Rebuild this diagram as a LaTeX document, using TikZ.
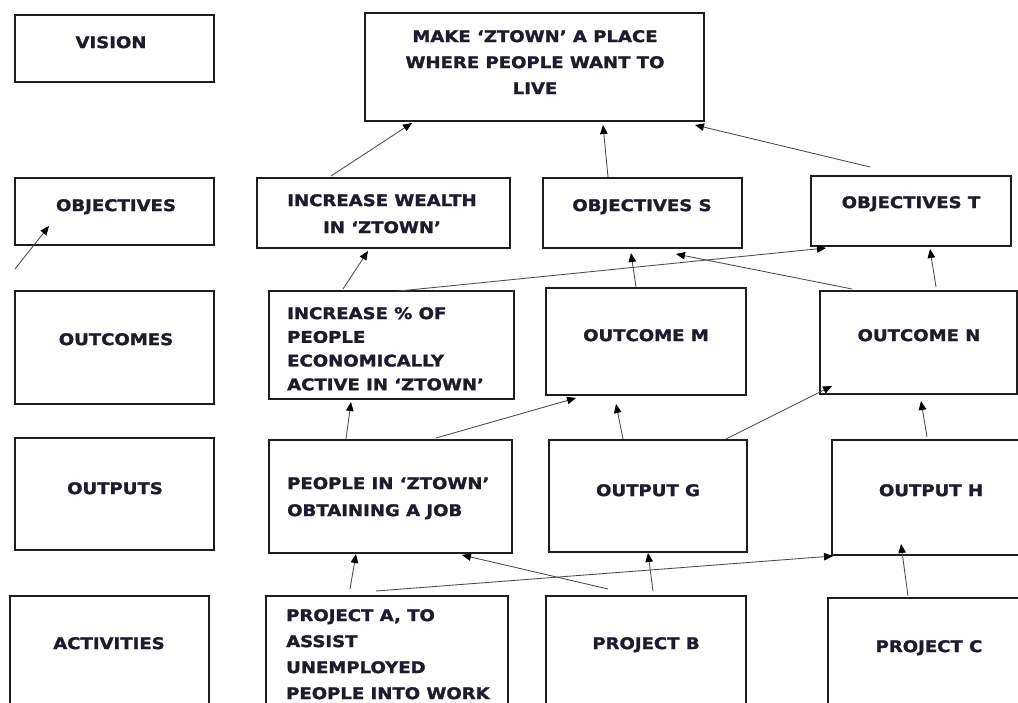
\documentclass[tikz,border=0pt]{standalone}
\usepackage{fontspec}
\usetikzlibrary{arrows.meta,calc}
\newfontfamily\lblfont[FakeStretch=1.13,FakeBold=1.6]{DejaVu Sans}
\definecolor{ink}{HTML}{1C1C2E}
\definecolor{frame}{HTML}{1E1E1E}
\definecolor{wire}{HTML}{4A4A4A}
\begin{document}
\begin{tikzpicture}[x=1pt,y=-1pt,
  box/.style={draw=frame,line width=2pt,rectangle,inner sep=0pt},
  lbl/.style={inner sep=0pt,anchor=north,text=ink,
    font=\lblfont\bfseries\fontsize{16}{26}\selectfont},
  link/.style={draw=wire,line width=0.85pt,
    -{Triangle[length=9pt,width=7.5pt,fill=black,color=black]}}]
\clip (0,0) rectangle (1018,703);
\fill[white] (0,0) rectangle (1018,703);

% ---- boxes, one row per level ----
\node[box,minimum width=199pt,minimum height=67pt]  (vis)    at (114.5,48.5) {};
\node[box,minimum width=339pt,minimum height=108pt] (make)   at (534.5,67)   {};

\node[box,minimum width=199pt,minimum height=67pt]  (obj)    at (114.5,211.5) {};
\node[box,minimum width=253pt,minimum height=70pt]  (wealth) at (383.5,213)   {};
\node[box,minimum width=199pt,minimum height=70pt]  (objs)   at (642.5,213)   {};
\node[box,minimum width=200pt,minimum height=70pt]  (objt)   at (911,211)     {};

\node[box,minimum width=199pt,minimum height=113pt] (outc)   at (114.5,347.5) {};
\node[box,minimum width=245pt,minimum height=108pt] (incp)   at (391.5,345)   {};
\node[box,minimum width=200pt,minimum height=107pt] (outm)   at (646,341.5)   {};
\node[box,minimum width=197pt,minimum height=103pt] (outn)   at (918.5,342.5) {};

\node[box,minimum width=199pt,minimum height=112pt] (outp)   at (114.5,494)   {};
\node[box,minimum width=243pt,minimum height=113pt] (people) at (390.5,496.5) {};
\node[box,minimum width=198pt,minimum height=112pt] (outg)   at (648,496)     {};
\node[box,minimum width=198pt,minimum height=115pt] (outh)   at (931,497.5)   {};

\node[box,minimum width=199pt,minimum height=164pt] (act)    at (109.5,678)   {};
\node[box,minimum width=242pt,minimum height=164pt] (proja)  at (387,678)     {};
\node[box,minimum width=200pt,minimum height=164pt] (projb)  at (646,678)     {};
\node[box,minimum width=202pt,minimum height=162pt] (projc)  at (929,679)     {};

% ---- labels ----
\node[lbl] (vis-t)    at (111,36)  {VISION};
\node[lbl,align=center] (make-t) at (535,30)
  {MAKE ‘ZTOWN’ A PLACE\\WHERE PEOPLE WANT TO\\LIVE};
\node[lbl] (obj-t)    at (116,199) {OBJECTIVES};
\node[lbl,align=center,font=\lblfont\bfseries\fontsize{16}{27}\selectfont]
  (wealth-t) at (382,194) {INCREASE WEALTH\\IN ‘ZTOWN’};
\node[lbl] (objs-t)   at (642,199) {OBJECTIVES S};
\node[lbl] (objt-t)   at (911,196) {OBJECTIVES T};

\node[lbl] (outc-t)   at (116,333) {OUTCOMES};
\node[lbl,anchor=north west,align=left,font=\lblfont\bfseries\fontsize{16}{23.7}\selectfont]
  (incp-t) at (287,307) {INCREASE \% OF\\PEOPLE\\ECONOMICALLY\\ACTIVE IN ‘ZTOWN’};
\node[lbl] (outm-t)   at (646,329) {OUTCOME M};
\node[lbl] (outn-t)   at (919,329) {OUTCOME N};

\node[lbl] (outp-t)   at (115,482) {OUTPUTS};
\node[lbl,anchor=north west,align=left,font=\lblfont\bfseries\fontsize{16}{27}\selectfont]
  (people-t) at (287,477) {PEOPLE IN ‘ZTOWN’\\OBTAINING A JOB};
\node[lbl] (outg-t)   at (648,484) {OUTPUT G};
\node[lbl] (outh-t)   at (931,484) {OUTPUT H};

\node[lbl] (act-t)    at (109,637) {ACTIVITIES};
\node[lbl,anchor=north west,align=left]
  (proja-t) at (286,609) {PROJECT A, TO\\ASSIST\\UNEMPLOYED\\PEOPLE INTO WORK};
\node[lbl] (projb-t)  at (646,637) {PROJECT B};
\node[lbl] (projc-t)  at (929,640) {PROJECT C};

% ---- connectors ----
\coordinate (loose) at (15,269);
\draw[link] (loose) -- ($(obj.south west)+(35,-20)$);

\draw[link] ($(wealth.north west)+(75,-1)$) -- ($(make.south west)+(48,1)$);
\draw[link] ($(objs.north west)+(66,0)$)    -- ($(make.south west)+(239,3)$);
\draw[link] ($(objt.north west)+(60,-8)$)   -- ($(make.south east)+(-10,3)$);

\draw[link] ($(incp.north west)+(75,-1)$)   -- ($(wealth.south west)+(112,2)$);
\draw[link] ($(incp.north west)+(131,1)$)   -- ($(objt.south west)+(16,1)$);
\draw[link] ($(outm.north west)+(91,0)$)    -- ($(objs.south west)+(89,4)$);
\draw[link] ($(outn.north west)+(33,-1)$)   -- ($(objs.south west)+(134,5)$);
\draw[link] ($(outn.north west)+(117,-3)$)  -- ($(objt.south west)+(120,2)$);

\draw[link] ($(people.north west)+(78,0)$)  -- ($(incp.south west)+(83,2)$);
\draw[link] ($(people.north west)+(168,-1)$)-- ($(outm.south west)+(31,2)$);
\draw[link] ($(outg.north west)+(75,0)$)    -- ($(outm.south west)+(71,8)$);
\draw[link] ($(outg.north west)+(178,0)$)   -- ($(outn.south west)+(13,-9)$);
\draw[link] ($(outh.north west)+(96,-2)$)   -- ($(outn.south west)+(102,6)$);

\draw[link] ($(proja.north west)+(85,-6)$)  -- ($(people.south west)+(88,0)$);
\draw[link] ($(proja.north west)+(111,-4)$) -- ($(outh.south west)+(2,0)$);
\draw[link] ($(projb.north west)+(63,-6)$)  -- ($(people.south west)+(194,1)$);
\draw[link] ($(projb.north west)+(108,-4)$) -- ($(outg.south west)+(100,0)$);
\draw[link] ($(projc.north west)+(81,-1)$)  -- ($(outh.south west)+(70,-12)$);
\end{tikzpicture}
\end{document}
